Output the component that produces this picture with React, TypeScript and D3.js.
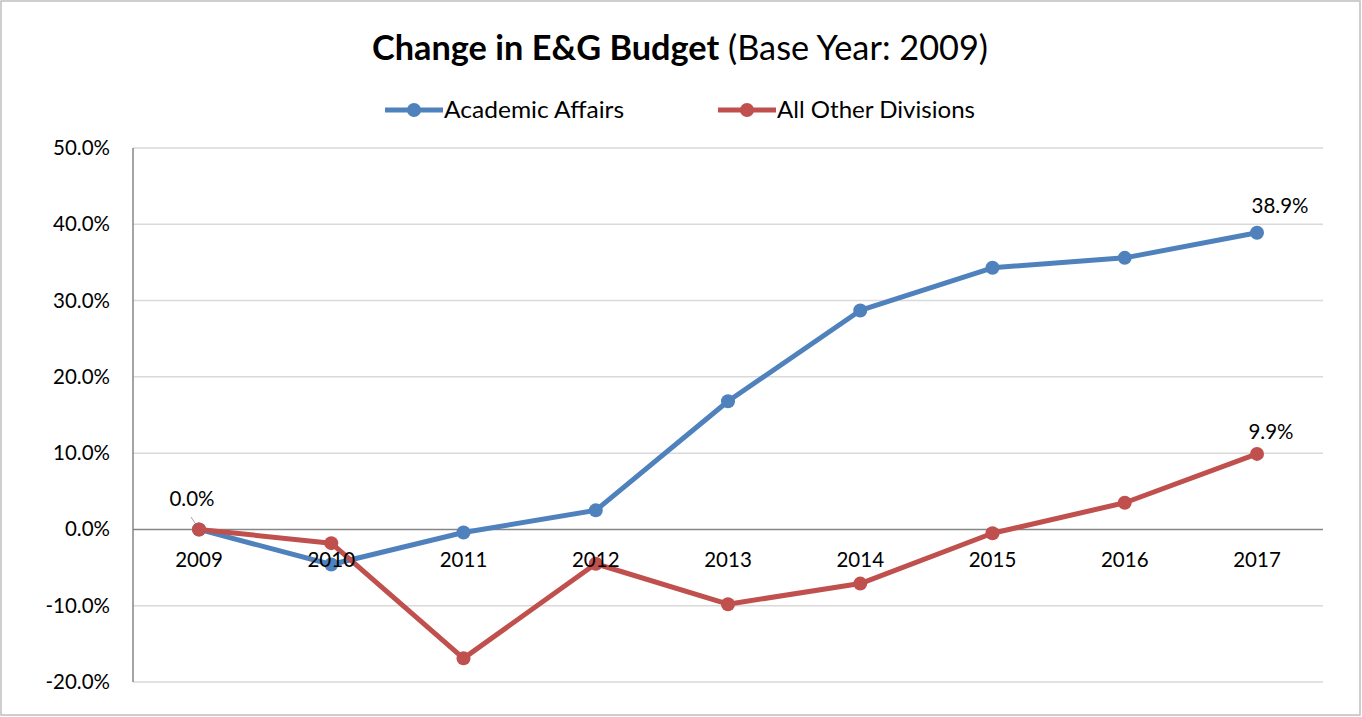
import React from "react";
import * as d3 from "d3";

const years = ["2009", "2010", "2011", "2012", "2013", "2014", "2015", "2016", "2017"];
const academic = [0, -4.6, -0.4, 2.5, 16.8, 28.7, 34.3, 35.6, 38.9];
const otherDiv = [0, -1.8, -16.9, -4.5, -9.8, -7.1, -0.5, 3.5, 9.9];
const yTicks = [-20, -10, 0, 10, 20, 30, 40, 50];

const W = 1362, H = 717;
const font = "Lato, 'Open Sans', sans-serif";
const blue = "#4f81bd", red = "#c0504d";

export default function App() {
  const x = d3.scalePoint<string>().domain(years).range([199, 1257]);
  const y = d3.scaleLinear().domain([-20, 50]).range([682, 148]);
  const line = d3.line<number>().x((_, i) => x(years[i])!).y((d) => y(d));
  const series = [
    { name: "Academic Affairs", vals: academic, color: blue },
    { name: "All Other Divisions", vals: otherDiv, color: red },
  ];
  return (
    <div style={{ position: "absolute", left: 0, top: 0 }}>
      <svg width={W} height={H} style={{ display: "block", fontFamily: font }}>
        <rect x={0} y={0} width={W} height={H} fill="#fff" />
        <rect x={1} y={1} width={1359} height={714} fill="none" stroke="#bfbfbf" strokeWidth={1.5} />
        <text x={680} y={60} textAnchor="middle" fontSize={34} fill="#000" textLength={616} lengthAdjust="spacingAndGlyphs">
          <tspan fontWeight="bold">Change in E&amp;G Budget</tspan>
          <tspan> (Base Year: 2009)</tspan>
        </text>
        {/* legend */}
        <g>
          <line x1={385} x2={443} y1={110} y2={110} stroke={blue} strokeWidth={5} />
          <circle cx={414} cy={110} r={7} fill={blue} />
          <text x={444} y={118} fontSize={23} textLength={180} lengthAdjust="spacingAndGlyphs">Academic Affairs</text>
          <line x1={718} x2={776} y1={110} y2={110} stroke={red} strokeWidth={5} />
          <circle cx={747} cy={110} r={7} fill={red} />
          <text x={777} y={118} fontSize={23} textLength={198} lengthAdjust="spacingAndGlyphs">All Other Divisions</text>
        </g>
        {/* grid */}
        {yTicks.map((t) => (
          <g key={t}>
            {t !== 0 && (
              <line x1={133} x2={1323} y1={y(t)} y2={y(t)} stroke="#d9d9d9" strokeWidth={1.5} />
            )}
            <text x={110} y={y(t) + 7} textAnchor="end" fontSize={20.5}>
              {t.toFixed(1)}%
            </text>
          </g>
        ))}
        <line x1={133} x2={133} y1={148} y2={682} stroke="#868686" strokeWidth={1.5} />
        <line x1={133} x2={1323} y1={y(0)} y2={y(0)} stroke="#868686" strokeWidth={1.5} />
        {/* leader line for 0.0% label */}
        <line x1={191} x2={199} y1={517} y2={529} stroke="#a6a6a6" strokeWidth={1} />
        {series.map((s) => (
          <g key={s.name}>
            <path d={line(s.vals)!} fill="none" stroke={s.color} strokeWidth={5} strokeLinejoin="round" />
            {s.vals.map((v, i) => (
              <circle key={i} cx={x(years[i])} cy={y(v)} r={7} fill={s.color} />
            ))}
          </g>
        ))}
        {years.map((yr) => (
          <text key={yr} x={x(yr)} y={567} textAnchor="middle" fontSize={20.5}>
            {yr}
          </text>
        ))}
        <text x={192} y={506} textAnchor="middle" fontSize={20.5}>0.0%</text>
        <text x={1280} y={213} textAnchor="middle" fontSize={20.5}>
          {academic[8].toFixed(1)}%
        </text>
        <text x={1271} y={439} textAnchor="middle" fontSize={20.5}>
          {otherDiv[8].toFixed(1)}%
        </text>
      </svg>
    </div>
  );
}
